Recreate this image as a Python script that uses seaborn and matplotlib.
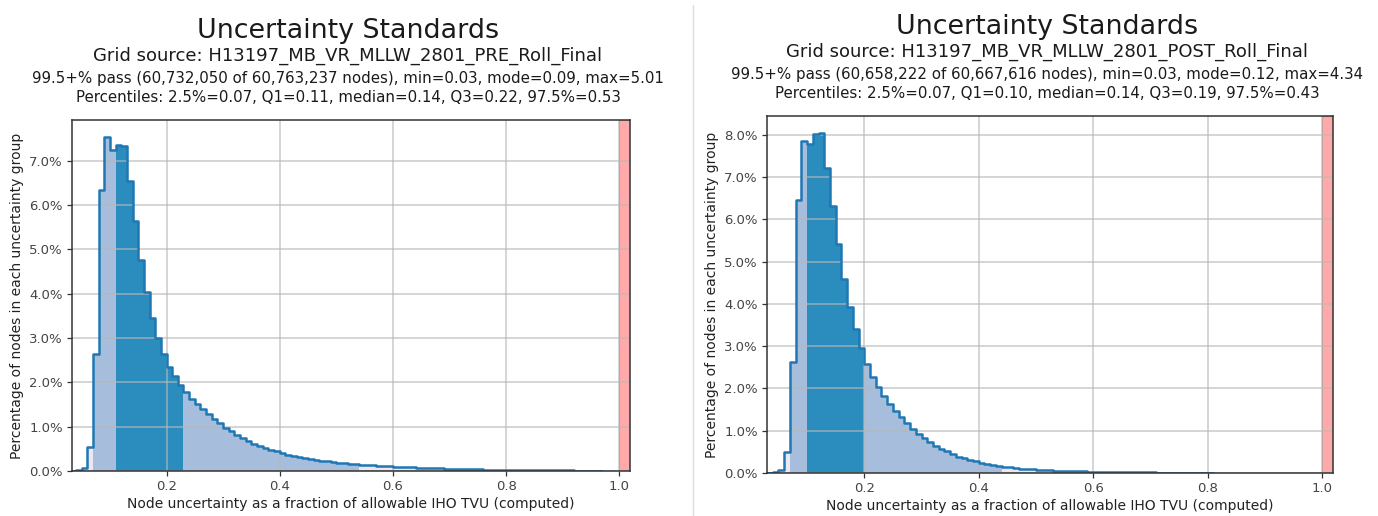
import numpy as np
import pandas as pd
import matplotlib
matplotlib.use("Agg")
import matplotlib.pyplot as plt
from matplotlib.lines import Line2D
from matplotlib.ticker import MultipleLocator, PercentFormatter
import seaborn as sns

# Histogram bins: fraction of allowable IHO TVU, 0.01 wide, starting at 0.03
first_edge = 0.03
bin_width = 0.01

# Percentage of nodes per bin, PRE roll surface
pre_pct = [
    0.01, 0.03, 0.07, 0.54, 2.63, 6.34, 7.54, 7.24, 7.36, 7.33,
    6.54, 5.63, 4.77, 4.03, 3.45, 3.00, 2.63, 2.34, 2.15, 1.94,
    1.79, 1.62, 1.50, 1.39, 1.28, 1.17, 1.08, 0.98, 0.90, 0.81,
    0.74, 0.68, 0.62, 0.56, 0.52, 0.47, 0.44, 0.40, 0.37, 0.34,
    0.31, 0.29, 0.26, 0.25, 0.23, 0.22, 0.20, 0.19, 0.17, 0.165,
    0.15, 0.14, 0.135, 0.13, 0.12, 0.11, 0.105, 0.10, 0.094, 0.088,
    0.082, 0.077, 0.072, 0.067, 0.062, 0.058, 0.054, 0.050, 0.047, 0.044,
    0.041, 0.038, 0.036, 0.033, 0.031, 0.029, 0.027, 0.025, 0.023, 0.022,
    0.020, 0.019, 0.018, 0.017, 0.016, 0.015, 0.014, 0.013, 0.012, 0.011,
    0.010, 0.009, 0.009, 0.008,
]

# Percentage of nodes per bin, POST roll surface
post_pct = [
    0.005, 0.02, 0.06, 0.50, 2.63, 6.46, 7.86, 7.78, 8.02, 8.04,
    7.21, 6.32, 5.41, 4.58, 3.93, 3.40, 2.95, 2.58, 2.27, 2.04,
    1.82, 1.64, 1.47, 1.33, 1.18, 1.05, 0.93, 0.83, 0.73, 0.65,
    0.57, 0.51, 0.44, 0.39, 0.35, 0.31, 0.28, 0.245, 0.21, 0.19,
    0.17, 0.15, 0.135, 0.12, 0.105, 0.095, 0.087, 0.08, 0.072, 0.065,
    0.059, 0.054, 0.049, 0.045, 0.041, 0.037, 0.034, 0.031, 0.028, 0.025,
    0.023, 0.021, 0.019, 0.017, 0.016, 0.014, 0.013, 0.012, 0.011, 0.010,
    0.009, 0.008, 0.008, 0.007, 0.006, 0.006, 0.005, 0.005,
]

# Summary statistics (2.5%, Q1, Q3, 97.5%) and x range start
pre_quantiles = [0.07, 0.11, 0.22, 0.53]
post_quantiles = [0.07, 0.10, 0.19, 0.43]
pre_xmin = 0.033
post_xmin = 0.030

titles = ["Uncertainty Standards", "Uncertainty Standards"]
sources = [
    "Grid source: H13197_MB_VR_MLLW_2801_PRE_Roll_Final",
    "Grid source: H13197_MB_VR_MLLW_2801_POST_Roll_Final",
]
pass_lines = [
    "99.5+% pass (60,732,050 of 60,763,237 nodes), min=0.03, mode=0.09, max=5.01",
    "99.5+% pass (60,658,222 of 60,667,616 nodes), min=0.03, mode=0.12, max=4.34",
]
pct_lines = [
    "Percentiles: 2.5%=0.07, Q1=0.11, median=0.14, Q3=0.22, 97.5%=0.53",
    "Percentiles: 2.5%=0.07, Q1=0.10, median=0.14, Q3=0.19, 97.5%=0.43",
]
xlabel = "Node uncertainty as a fraction of allowable IHO TVU (computed)"
ylabel = "Percentage of nodes in each uncertainty group"

zone_colors = {"outer": "#ece7f2", "inner": "#a6bddb", "iqr": "#2b8cbe"}
line_color = "#1f77b4"
fail_color = "#ffaaaa"

sns.set_theme(style="ticks")
plt.rcParams["font.family"] = ["DejaVu Sans"]
plt.rcParams["axes.edgecolor"] = "#333333"
plt.rcParams["xtick.color"] = "#333333"
plt.rcParams["ytick.color"] = "#333333"
plt.rcParams["xtick.labelcolor"] = "#444444"
plt.rcParams["ytick.labelcolor"] = "#444444"

W, H = 1378, 516
fig = plt.figure(figsize=(W / 100, H / 100), dpi=100)
fig.patch.set_facecolor("white")


def px_box(x0, y0, x1, y1):
    return [x0 / W, 1 - y1 / H, (x1 - x0) / W, (y1 - y0) / H]


def draw_panel(ax, pct, quantiles, xmin):
    p_lo, q1, q3, p_hi = quantiles
    edges = np.round(first_edge + bin_width * np.arange(len(pct) + 1), 3)
    left = edges[:-1]
    eps = 1e-9
    in_iqr = (left >= q1 - eps) & (left <= q3 + eps)
    in_mid = (left >= p_lo - eps) & (left <= p_hi + eps)
    zone = np.where(in_iqr, "iqr", np.where(in_mid, "inner", "outer"))
    df = pd.DataFrame({"value": left + bin_width / 2, "pct": pct, "zone": zone})
    bin_list = edges.tolist()

    sns.histplot(data=df, x="value", weights="pct", bins=bin_list, hue="zone",
                 hue_order=["outer", "inner", "iqr"], palette=zone_colors,
                 multiple="layer", element="bars", alpha=1, linewidth=0,
                 legend=False, ax=ax)
    sns.histplot(data=df, x="value", weights="pct", bins=bin_list,
                 element="step", fill=False, color=line_color,
                 linewidth=1.8, ax=ax)

    xmax = 1.019
    ax.axvspan(1.0, xmax, facecolor=fail_color, edgecolor="#e08888",
               linewidth=0.8, zorder=1)
    ax.set_xlim(xmin, xmax)
    ax.set_ylim(0, max(pct) * 1.05)
    ax.xaxis.set_major_locator(MultipleLocator(0.2))
    ax.yaxis.set_major_locator(MultipleLocator(1.0))
    ax.yaxis.set_major_formatter(PercentFormatter(xmax=100, decimals=1))
    ax.set_axisbelow("line")
    ax.grid(True, color="#b8b8b8", linewidth=1.1, alpha=0.75)
    for sp in ax.spines.values():
        sp.set_visible(True)
        sp.set_linewidth(1.1)
    ax.tick_params(labelsize=9.5, length=3.5, width=0.9, pad=3)
    ax.set_xlabel(xlabel, fontsize=10, color="#222222", labelpad=3)
    ax.set_ylabel(ylabel, fontsize=10, color="#222222", labelpad=4)


ax_pre = fig.add_axes(px_box(72, 120, 630, 471))
ax_post = fig.add_axes(px_box(767, 116, 1333, 473))
draw_panel(ax_pre, pre_pct, pre_quantiles, pre_xmin)
draw_panel(ax_post, post_pct, post_quantiles, post_xmin)

# Heading block above each panel
for cx, ys, i in [(348, (31, 56, 78, 98), 0), (1047, (27, 52, 74, 94), 1)]:
    texts = [(titles[i], 19.4), (sources[i], 13), (pass_lines[i], 10.8),
             (pct_lines[i], 10.8)]
    for (s, fs), y in zip(texts, ys):
        fig.text(cx / W, 1 - y / H, s, ha="center", va="center",
                 fontsize=fs, color="#1a1a1a")

# Divider between the two panels
fig.add_artist(Line2D([693 / W, 693 / W], [0, 0.99], color="#dddddd",
                      linewidth=1, transform=fig.transFigure))

fig.savefig("out.png", dpi=100, facecolor="white")
